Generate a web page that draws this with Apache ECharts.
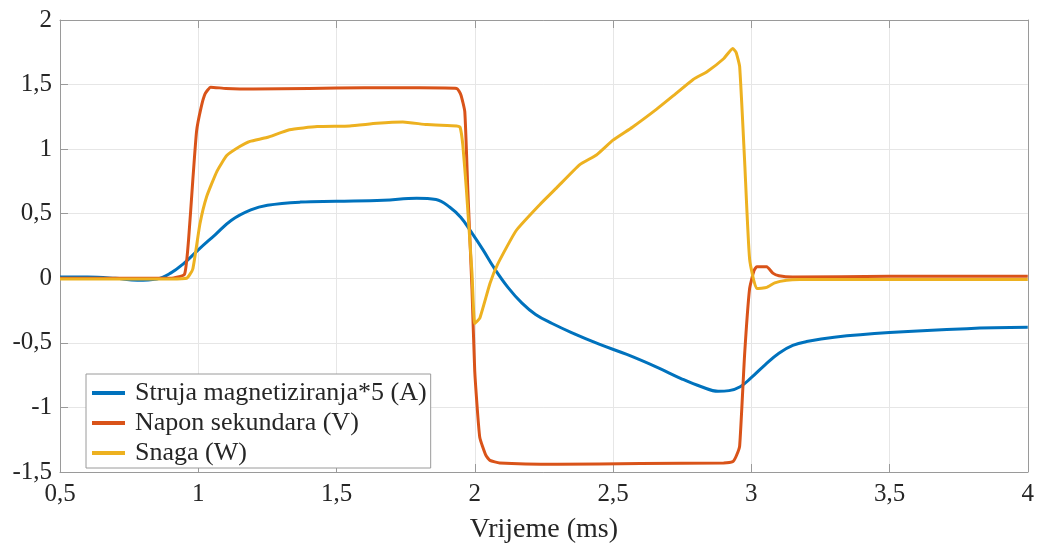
<!DOCTYPE html>
<html>
<head>
<meta charset="utf-8">
<script src="https://cdn.jsdelivr.net/npm/echarts@6/dist/echarts.min.js"></script>
<style>html,body{margin:0;padding:0;background:#fff}#c{width:1037px;height:549px}</style>
</head>
<body>
<div id="c"></div>
<script>
// Struja magnetiziranja*5 (A)
var strujaT = [0.5,0.6,0.7,0.78,0.85,0.9,0.945,1.0,1.06,1.12,1.19,1.25,1.37,1.5,1.67,1.79,1.86,1.91,1.95,1.99,2.03,2.07,2.12,2.17,2.22,2.28,2.35,2.45,2.55,2.66,2.75,2.82,2.88,2.92,2.96,3.0,3.05,3.1,3.15,3.2,3.3,3.5,3.78,4.0];
var strujaV = [0.01,0.01,0.0,-0.015,-0.005,0.04,0.11,0.22,0.335,0.45,0.53,0.566,0.59,0.596,0.604,0.62,0.61,0.55,0.47,0.35,0.22,0.08,-0.07,-0.19,-0.28,-0.35,-0.42,-0.51,-0.59,-0.69,-0.78,-0.84,-0.875,-0.87,-0.84,-0.77,-0.67,-0.58,-0.52,-0.49,-0.456,-0.42,-0.39,-0.38];
// Napon sekundara (V)
var naponT = [0.5,0.7,0.9,0.95,0.965,0.98,0.994,1.01,1.025,1.045,1.1,1.2,1.4,1.6,1.8,1.935,1.95,1.964,1.975,1.99,2.0,2.018,2.04,2.055,2.09,2.3,2.6,2.9,2.933,2.945,2.958,2.976,2.994,3.01,3.02,3.056,3.078,3.1,3.15,3.5,4.0];
var naponV = [0.0,0.0,0.0,0.03,0.3,0.75,1.14,1.32,1.43,1.48,1.47,1.465,1.47,1.475,1.475,1.47,1.42,1.29,0.68,-0.08,-0.72,-1.23,-1.37,-1.41,-1.43,-1.44,-1.435,-1.43,-1.42,-1.38,-1.3,-0.59,-0.08,0.06,0.09,0.09,0.04,0.02,0.01,0.015,0.015];
// Snaga (W)
var snagaT = [0.5,0.7,0.9,0.958,0.98,1.006,1.03,1.068,1.103,1.15,1.187,1.248,1.33,1.43,1.548,1.646,1.74,1.827,1.935,1.947,1.957,1.97,1.99,2.0,2.018,2.055,2.083,2.15,2.235,2.296,2.38,2.44,2.5,2.57,2.658,2.716,2.79,2.84,2.9,2.933,2.945,2.958,2.976,2.994,3.02,3.056,3.085,3.128,3.175,3.5,4.0];
var snagaV = [-0.005,-0.005,-0.005,0.0,0.07,0.42,0.63,0.83,0.95,1.02,1.06,1.09,1.15,1.175,1.18,1.2,1.21,1.19,1.18,1.17,1.03,0.68,0.04,-0.35,-0.31,-0.04,0.11,0.37,0.57,0.7,0.88,0.955,1.07,1.17,1.31,1.41,1.54,1.6,1.7,1.78,1.75,1.64,0.91,0.15,-0.08,-0.07,-0.035,-0.015,-0.01,-0.01,-0.01];

var seriesNames = ['Struja magnetiziranja*5 (A)', 'Napon sekundara (V)', 'Snaga (W)'];
var seriesColors = ['#0072BD', '#D95319', '#EDB120'];
var xName = 'Vrijeme (ms)';

function pairs(t, v) { return t.map(function (x, i) { return [x, v[i]]; }); }
function fmt(v) { return String(v).replace('.', ','); }

var FONT = 'Liberation Serif';
var axisGrey = '#9a9a9a';
var labelColor = '#262626';

var chart = echarts.init(document.getElementById('c'), null, { renderer: 'canvas' });
chart.setOption({
  animation: false,
  backgroundColor: '#fff',
  grid: { left: 60, right: 9, top: 20, bottom: 70, containLabel: false },
  legend: {
    orient: 'vertical',
    left: 86, top: 374,
    data: seriesNames,
    icon: 'rect',
    itemWidth: 33, itemHeight: 4, itemGap: 4,
    padding: [6, 4, 2, 6],
    borderColor: axisGrey, borderWidth: 1, backgroundColor: '#fff',
    textStyle: { fontFamily: FONT, fontSize: 26, color: labelColor, padding: [0, 0, 0, 5] }
  },
  xAxis: [{
    type: 'value', min: 0.5, max: 4, interval: 0.5,
    name: xName, nameLocation: 'middle', nameGap: 44,
    nameTextStyle: { fontFamily: FONT, fontSize: 28, color: labelColor },
    axisLine: { show: true, onZero: false, lineStyle: { color: axisGrey, width: 1 } },
    axisTick: { show: true, inside: true, length: 8, lineStyle: { color: axisGrey } },
    axisLabel: { fontFamily: FONT, fontSize: 25, color: labelColor, margin: 10, formatter: fmt },
    splitLine: { show: true, lineStyle: { color: '#e6e6e6', width: 1 } }
  }, {
    type: 'value', min: 0.5, max: 4, interval: 0.5, position: 'top',
    axisLine: { show: true, onZero: false, lineStyle: { color: axisGrey, width: 1 } },
    axisTick: { show: true, inside: true, length: 8, lineStyle: { color: axisGrey } },
    axisLabel: { show: false }, splitLine: { show: false }
  }],
  yAxis: [{
    type: 'value', min: -1.5, max: 2, interval: 0.5,
    axisLine: { show: true, onZero: false, lineStyle: { color: axisGrey, width: 1 } },
    axisTick: { show: true, inside: true, length: 8, lineStyle: { color: axisGrey } },
    axisLabel: { fontFamily: FONT, fontSize: 25, color: labelColor, margin: 8, formatter: fmt },
    splitLine: { show: true, lineStyle: { color: '#e6e6e6', width: 1 } }
  }, {
    type: 'value', min: -1.5, max: 2, interval: 0.5, position: 'right',
    axisLine: { show: true, onZero: false, lineStyle: { color: axisGrey, width: 1 } },
    axisTick: { show: false },
    axisLabel: { show: false }, splitLine: { show: false }
  }],
  series: [
    { name: seriesNames[0], type: 'line', data: pairs(strujaT, strujaV), smooth: 0.4, showSymbol: false, color: seriesColors[0], lineStyle: { width: 3 }, z: 3 },
    { name: seriesNames[1], type: 'line', data: pairs(naponT, naponV), smooth: 0.15, showSymbol: false, color: seriesColors[1], lineStyle: { width: 3 }, z: 4 },
    { name: seriesNames[2], type: 'line', data: pairs(snagaT, snagaV), smooth: 0.15, showSymbol: false, color: seriesColors[2], lineStyle: { width: 3 }, z: 5 }
  ]
});
</script>
</body>
</html>
